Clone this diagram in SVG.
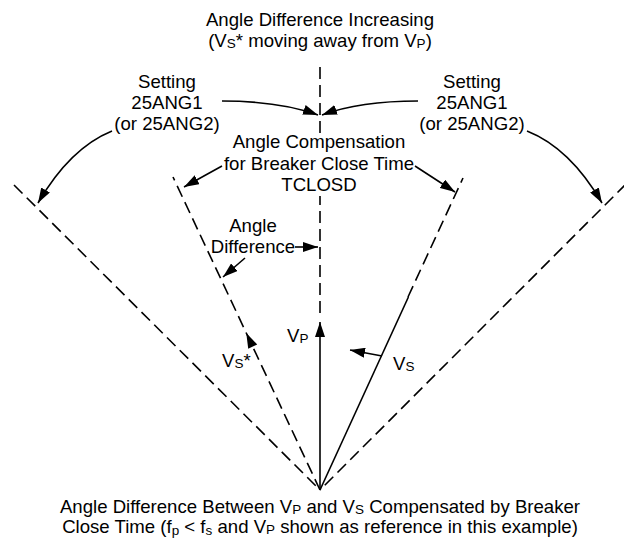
<svg xmlns="http://www.w3.org/2000/svg" width="624" height="540" viewBox="0 0 624 540">
<style>
text{font-family:"Liberation Sans",Arial,sans-serif;font-size:18.6px;fill:#000}
.c{text-anchor:middle}
.sub{font-size:13.5px}
.d{stroke:#000;stroke-width:1.6;fill:none;stroke-dasharray:12 6}
.s{stroke:#000;stroke-width:1.6;fill:none}
.a{stroke:#000;stroke-width:1.6;fill:none;marker-end:url(#ah)}
</style>
<defs>
<marker id="ah" viewBox="0 0 15 10" refX="15" refY="5" markerWidth="15" markerHeight="10" markerUnits="userSpaceOnUse" orient="auto">
<path d="M0,0 L15,5 L0,10 z" fill="#000"/>
</marker>
</defs>
<rect width="624" height="540" fill="#fff"/>
<g id="connectors">
<line class="d" x1="320" y1="67" x2="320" y2="318"/>
<line class="d" x1="14" y1="185" x2="320" y2="490"/>
<line class="d" x1="626" y1="184" x2="320" y2="490"/>
<line class="d" x1="320" y1="490" x2="173" y2="177"/>
<line class="d" x1="408" y1="297" x2="463" y2="178"/>
<line class="s" x1="320" y1="490" x2="408.4" y2="297"/>
<line class="a" x1="320" y1="490" x2="320" y2="322"/>
<polygon points="246.3,333 257.2,344.5 248.2,348.7" fill="#000"/>
<line class="a" x1="382" y1="356" x2="350" y2="350"/>
<path class="a" d="M222,101 Q280,101 318,115"/>
<path class="a" d="M418,101 Q360,101 322,115"/>
<path class="a" d="M112,131 Q70,148 38,203"/>
<path class="a" d="M527,131 Q570,148 602,203"/>
<line class="a" x1="222" y1="166" x2="184" y2="187"/>
<line class="a" x1="415" y1="166" x2="455" y2="192"/>
<line class="a" x1="295" y1="247" x2="318" y2="247"/>
<line class="a" x1="245" y1="258" x2="223" y2="277"/>
</g>
<g id="title">
<text class="c" x="320" y="26">Angle Difference Increasing</text>
<text class="c" x="320" y="47">(V<tspan class="sub" dy="1">S</tspan><tspan dy="-1">* moving away from V</tspan><tspan class="sub" dy="1">P</tspan><tspan dy="-1">)</tspan></text>
</g>
<g id="setting-left">
<text class="c" x="167" y="88">Setting</text>
<text class="c" x="167" y="109">25ANG1</text>
<text class="c" x="167" y="130">(or 25ANG2)</text>
</g>
<g id="setting-right">
<text class="c" x="472" y="88">Setting</text>
<text class="c" x="472" y="109">25ANG1</text>
<text class="c" x="472" y="130">(or 25ANG2)</text>
</g>
<g id="compensation">
<rect x="300" y="134" width="40" height="62" fill="#fff"/>
<text class="c" x="319" y="148">Angle Compensation</text>
<text class="c" x="319" y="170">for Breaker Close Time</text>
<text class="c" x="319" y="191">TCLOSD</text>
</g>
<g id="angle-difference">
<text class="c" x="253" y="232">Angle</text>
<text class="c" x="253" y="253">Difference</text>
</g>
<g id="vp"><text x="287" y="342">V<tspan class="sub" dy="1">P</tspan></text></g>
<g id="vs-star"><text x="222" y="367">V<tspan class="sub" dy="1">S</tspan><tspan dy="-1">*</tspan></text></g>
<g id="vs"><text x="393" y="370">V<tspan class="sub" dy="1">S</tspan></text></g>
<g id="caption">
<text class="c" x="320" y="513">Angle Difference Between V<tspan class="sub" dy="1">P</tspan><tspan dy="-1"> and V</tspan><tspan class="sub" dy="1">S</tspan><tspan dy="-1"> Compensated by Breaker</tspan></text>
<text class="c" x="320" y="533">Close Time (f<tspan class="sub" dy="2">p</tspan><tspan dy="-2"> &lt; f</tspan><tspan class="sub" dy="2">s</tspan><tspan dy="-2"> and V</tspan><tspan class="sub" dy="1">P</tspan><tspan dy="-1"> shown as reference in this example)</tspan></text>
</g>
</svg>
